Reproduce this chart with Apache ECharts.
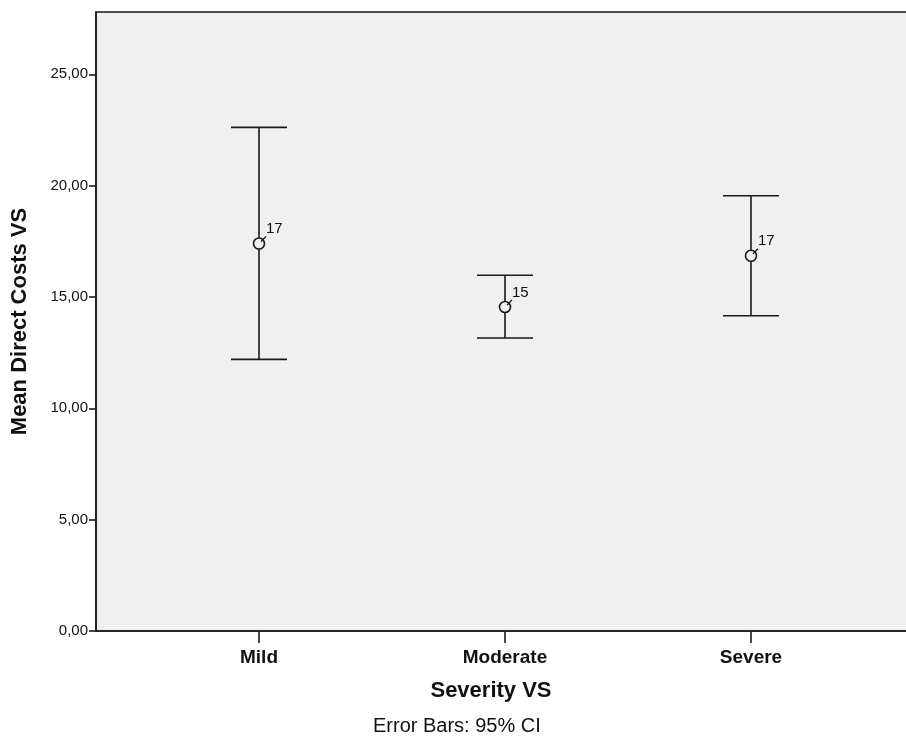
<!DOCTYPE html>
<html>
<head>
<meta charset="utf-8">
<script src="https://cdn.jsdelivr.net/npm/echarts@6/dist/echarts.min.js"></script>
<style>
html,body{margin:0;padding:0;background:#fff;}
#chart{width:906px;height:743px;}
</style>
</head>
<body>
<div id="chart"></div>
<script>
// ---- data ----
var categories = ['Mild', 'Moderate', 'Severe'];
var means = [17.40, 14.55, 16.85];
var ciLower = [12.20, 13.16, 14.16];
var ciUpper = [22.62, 15.98, 19.55];
var meanLabels = ['17', '15', '17'];
var yTicks = [0, 5, 10, 15, 20, 25];

var FONT = '"Liberation Sans", Arial, Helvetica, sans-serif';
var LINE = '#1a1a1a';

var seriesData = categories.map(function (c, i) {
  return [i + 1, means[i], ciLower[i], ciUpper[i], meanLabels[i]];
});

var chart = echarts.init(document.getElementById('chart'), null, {renderer: 'canvas'});

function renderItem(params, api) {
  var x = api.value(0);
  var m = api.value(1);
  var lo = api.value(2);
  var hi = api.value(3);
  var pM = api.coord([x, m]);
  var pL = api.coord([x, lo]);
  var pH = api.coord([x, hi]);
  var capHalf = 28;
  var r = 5.5;
  var st = {stroke: LINE, lineWidth: 1.6};
  var lbl = meanLabels[params.dataIndex];
  return {
    type: 'group',
    children: [
      {type: 'line', shape: {x1: pL[0], y1: pL[1], x2: pH[0], y2: pH[1]}, style: st},
      {type: 'line', shape: {x1: pL[0] - capHalf, y1: pL[1], x2: pL[0] + capHalf, y2: pL[1]}, style: st},
      {type: 'line', shape: {x1: pH[0] - capHalf, y1: pH[1], x2: pH[0] + capHalf, y2: pH[1]}, style: st},
      {type: 'circle', shape: {cx: pM[0], cy: pM[1], r: r}, style: {fill: '#f0f0f0', stroke: LINE, lineWidth: 1.6}},
      {type: 'line', shape: {x1: pM[0] + 2, y1: pM[1] - 2, x2: pM[0] + 7, y2: pM[1] - 7}, style: {stroke: LINE, lineWidth: 1.3}},
      {type: 'text', x: pM[0] + 7, y: pM[1] - 7,
        style: {text: lbl, fill: '#111', font: '15px ' + FONT, textAlign: 'left', textVerticalAlign: 'bottom'}}
    ]
  };
}

var option = {
  animation: false,
  backgroundColor: '#ffffff',
  grid: {
    left: 96, top: 12, width: 830, bottom: 112,
    show: true, backgroundColor: '#f0f0f0', borderColor: LINE, borderWidth: 1.6,
    containLabel: false,
    outerBoundsMode: 'none'
  },
  xAxis: {
    type: 'value',
    min: 0.3374, max: 3.7114,
    name: 'Severity VS',
    nameLocation: 'middle',
    nameGap: 49,
    nameTextStyle: {fontFamily: FONT, fontSize: 22, fontWeight: 'bold', color: '#111', padding: [0, 40, 0, 0]},
    axisLine: {show: true, onZero: false, lineStyle: {color: LINE, width: 1.6}},
    axisTick: {show: true, inside: false, length: 12, customValues: [1, 2, 3], lineStyle: {color: LINE, width: 1.6}},
    axisLabel: {
      customValues: [1, 2, 3],
      margin: 17,
      fontFamily: FONT, fontSize: 19, fontWeight: 'bold', color: '#111',
      formatter: function (v) { return categories[Math.round(v) - 1] || ''; }
    },
    splitLine: {show: false}
  },
  yAxis: {
    type: 'value',
    min: 0, max: 27.8,
    name: 'Mean Direct Costs VS',
    nameLocation: 'middle',
    nameGap: 65,
    nameRotate: 90,
    nameTextStyle: {fontFamily: FONT, fontSize: 22, fontWeight: 'bold', color: '#111'},
    axisLine: {show: true, lineStyle: {color: LINE, width: 1.6}},
    axisTick: {show: true, inside: false, length: 7, customValues: yTicks, lineStyle: {color: LINE, width: 1.6}},
    axisLabel: {
      customValues: yTicks,
      margin: 8,
      fontFamily: FONT, fontSize: 15, color: '#111',
      formatter: function (v) { return v.toFixed(2).replace('.', ','); }
    },
    splitLine: {show: false}
  },
  graphic: [
    {type: 'text', left: 373, top: 716,
      style: {text: 'Error Bars: 95% CI', font: '20px ' + FONT, fill: '#111'}}
  ],
  series: [
    {
      type: 'custom',
      renderItem: renderItem,
      data: seriesData,
      encode: {x: 0, y: [1, 2, 3]},
      clip: false,
      z: 5
    }
  ]
};
chart.setOption(option);
</script>
</body>
</html>
